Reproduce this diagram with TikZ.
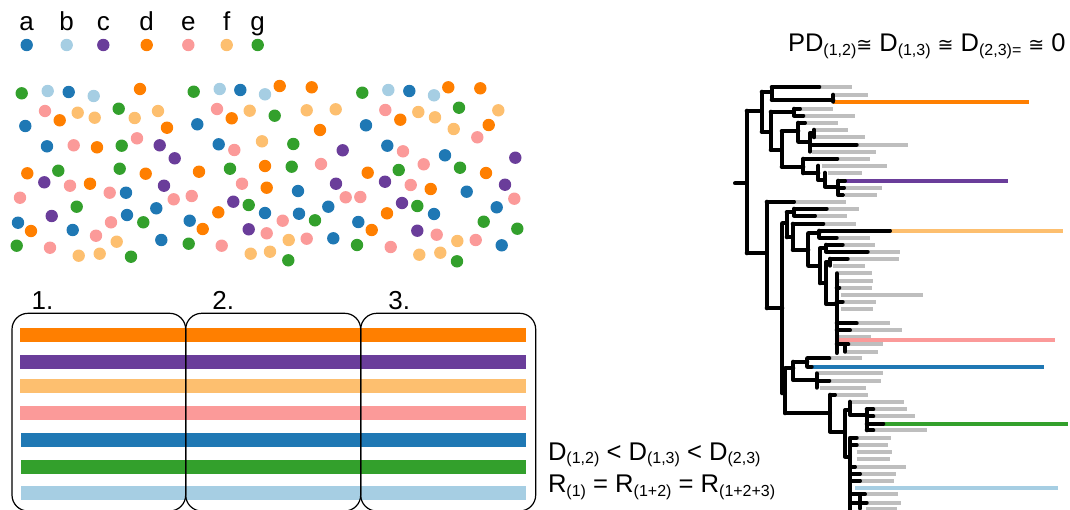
\documentclass[tikz,border=0pt]{standalone}
\usepackage{fontspec}
\setmainfont{Liberation Sans}
\newfontfamily\djv{DejaVu Sans}
\definecolor{pa}{HTML}{1F78B4}
\definecolor{pb}{HTML}{A6CEE3}
\definecolor{pc}{HTML}{6A3D9A}
\definecolor{pd}{HTML}{FF7F00}
\definecolor{pe}{HTML}{FB9A99}
\definecolor{pf}{HTML}{FDBF6F}
\definecolor{pg}{HTML}{33A02C}
\definecolor{tgrey}{HTML}{BEBEBE}
\newcommand\bigf{\fontsize{26}{30}\selectfont}
\newcommand\midf{\fontsize{25.6}{30}\selectfont}
\newcommand\subf[1]{\raisebox{-3.5pt}{\fontsize{16}{16}\selectfont #1}}
\newcommand\tsubf[1]{\raisebox{-3.5pt}{\fontsize{16}{16}\selectfont #1}}
\newcommand\congsym{{\djv\fontsize{19}{19}\selectfont ≅}}
\tikzset{
  txt/.style={inner sep=0pt, outer sep=0pt},
  tb/.style={line width=4pt, line cap=round, line join=round, draw=black},
  tg/.style={line width=4pt, draw=tgrey},
  tc/.style={line width=4pt},
  boxst/.style={draw=black, line width=1.2pt, rounded corners=16pt},
}
\begin{document}
\begin{tikzpicture}[x=1pt,y=-1pt]
\useasboundingbox (0,0) rectangle (1070,509);
\clip (0,0) rectangle (1070,509);
% legend
\foreach \x/\l/\c in {26.7/a/pa, 66.7/b/pb, 103.3/c/pc, 146.7/d/pd, 188.3/e/pe, 226.7/f/pf, 257.7/g/pg} {
  \node[txt, anchor=base, font=\bigf] (leg\l) at (\x,30) {\l};
  \fill[\c] (\x,45) circle[radius=6.2pt];
}
% dots
\foreach \x/\y/\c in {
21.7/93.3/pg, 47.7/91/pb, 68.7/92/pa, 93.7/96/pb, 140/89/pd, 193.7/91.7/pg, 219.7/89/pb, 240.3/90/pa, 265/94.3/pb,
45/111/pe, 59.7/120.3/pd, 77.7/112.7/pf, 94.7/117.7/pf, 118.7/108.7/pg, 134.7/118/pf, 158/111/pf, 167/127.7/pd,
217/109/pe, 231.7/118.3/pd, 249.7/110.7/pf, 25.3/126/pa, 197.3/124.3/pa, 47/146.3/pa, 73.7/145.3/pe, 97/147.3/pd,
121.7/145.7/pg, 137/138.3/pe, 159.7/145.3/pc, 174.7/158.3/pc, 218.7/144.3/pa, 234.3/150/pe, 262/141.3/pf,
27.3/173.3/pd, 44.3/182.3/pc, 58.3/170.7/pg, 70/185.7/pe, 90/183.7/pd, 119.7/168.7/pg, 145.7/173.7/pd,
109.7/192.7/pe, 126/192.7/pa, 164/185.7/pc, 199/171.7/pd, 230/168.7/pg, 265/166/pd, 20/197.7/pe, 76.7/206.7/pg,
173.7/199.3/pe, 191.7/196/pe, 156.3/208.3/pa, 242/183.7/pe, 266.7/187.7/pd, 233.3/201.7/pc, 248.7/205/pg,
18/222.7/pa, 31/231/pd, 51.7/216/pc, 72.7/230/pa, 111/222.3/pe, 127/215/pa, 143.3/222.3/pg, 189.7/220.7/pa,
202.7/229/pd, 218.3/212.3/pd, 265/213/pa, 248.7/229.3/pc, 266.7/233.3/pe, 16.7/245.7/pg, 50/247.7/pe,
96/235.7/pe, 116.7/241.7/pf, 161.3/240/pa, 188.7/243.7/pg, 221.7/245.7/pe, 78.7/255.7/pf, 99.7/253.7/pf,
131/256.7/pg, 250.7/253.7/pf, 270/251.7/pf,
279.7/86/pd, 311.7/87.3/pd, 362.3/92.7/pg, 388.3/90/pb, 409.3/91/pa, 434/95.3/pb, 448.3/87.3/pd, 480.3/88.3/pd,
274.7/115.7/pg, 306.7/110.3/pf, 335.7/109.3/pf, 385.3/110/pe, 400.3/119.7/pd, 418.3/112/pf, 435/117.3/pf,
459/107.7/pg, 498.3/110.3/pf, 320/130/pd, 366/125.3/pa, 453.7/129/pf, 488.7/125/pd, 477.3/137.3/pe,
293.3/144/pg, 342.7/150.3/pc, 387.3/145.7/pa, 403/151.3/pe, 445/155.3/pa, 515.3/157.7/pc, 291.7/166.7/pg,
321/164/pe, 367.7/172.7/pd, 398.7/170/pg, 423.7/164.3/pe, 460/167.7/pg, 486/173/pd, 298/191/pa, 336/183.7/pc,
385/181.7/pc, 410.7/185/pe, 430.7/189/pd, 466.7/191.7/pa, 505/184.7/pc, 345.7/197.3/pe, 360.3/197/pe,
402/203/pc, 417.3/206/pg, 328.3/206.7/pa, 514.3/198.7/pe, 496.7/207.3/pa, 299/213.7/pa, 282.7/220.7/pe,
315/220.3/pg, 358.3/222/pa, 387/213.3/pd, 434/214/pa, 371.7/230/pd, 417.3/230.7/pc, 436.7/234.7/pe,
483.7/221.7/pg, 517.3/228.7/pg, 288.7/240/pf, 306.7/238.7/pe, 333.3/238.3/pa, 357/245/pg, 390.7/247/pe,
457.3/241/pf, 475.7/240/pe, 501.7/245.3/pa, 419.3/254.7/pf, 440.3/252.7/pf, 457/261.3/pg, 288.3/260.3/pg} {
  \fill[\c] (\x,\y) circle[radius=6.2pt];
}
% bars
\foreach \ya/\yb/\c/\xa in {328.3/341.7/pd/20, 355/369/pc/20, 379/392.7/pf/20, 406/420/pe/20, 433/446.7/pa/21, 460/474/pg/21, 486/500/pb/21} {
  \fill[\c] (\xa,\ya) rectangle (526,\yb);
}
% boxes
\draw[boxst] (12,313.3) rectangle (185.7,511);
\draw[boxst] (185.7,313.3) rectangle (360.7,511);
\draw[boxst] (360.7,313.3) rectangle (535.7,511);
\node[txt, anchor=base west, font=\bigf] (n1) at (31.7,309.3) {1.};
\node[txt, anchor=base west, font=\bigf] (n2) at (212.3,309.3) {2.};
\node[txt, anchor=base west, font=\bigf] (n3) at (388.3,309.3) {3.};
% formulas
\node[txt, anchor=base west, font=\midf] (f1) at (548,460) {D\subf{(1,2)} < D\subf{(1,3)} < D\subf{(2,3)}};
\node[txt, anchor=base west, font=\midf] (f2) at (548,492.7) {R\subf{(1)} = R\subf{(1+2)} = R\subf{(1+2+3)}};
\node[txt, anchor=base west, font=\fontsize{25.5}{28}\selectfont] (title) at (788,51.7)
  {PD\tsubf{(1,2)}\congsym{} D\tsubf{(1,3)} \congsym{} D\tsubf{(2,3)=} \congsym{} 0};
% tree: grey tips
\foreach \y/\xa/\xb in {
87/819.3/851.7, 94.7/835/867.7, 108.7/800/832.7, 115.7/803.3/855, 122.7/805/837.7, 129.7/815/847.7,
137.3/815/865, 144.7/856.7/907.7, 151.7/812/875.7, 158.7/837.3/869.7, 165.7/821.7/886.7, 172.7/828.3/861.7,
187.7/845/881.7, 195/845/876.7, 201.7/794/845.7, 208.7/826.7/859, 215.7/815/846.7, 223.7/823.3/856,
237.7/836.7/870, 244.7/842.7/875, 251.7/867.7/900, 258.7/847.7/899, 265.7/833.3/865, 273.3/836.7/871.7,
280.7/839.3/872.7, 287.7/839.3/871.7, 294.7/840.7/922.7, 301.7/842.7/875.7, 308.7/840.7/872.7,
323.3/856.7/890, 330.3/850/901.7, 336.5/838.3/870.7, 344.3/848.3/882.7, 351.7/845/878, 358.3/829.3/861.7,
373.3/818.3/882.7, 380.7/829.3/881, 387.7/820/865.7, 394.7/835/867.7, 401.7/851.7/903.7, 409.3/873.3/906.7,
416.3/873.3/914.7, 430.3/873.3/926.7, 437.7/856.7/890.7, 445/856.7/887.7, 452.3/856.7/891.7, 459.3/856.7/890,
466.7/855/905.7, 473.7/860/895.7, 480.7/860/893.7, 494.3/865/897.7, 502.7/866.7/900.7, 508.5/866/897} {
  \draw[tg] (\xa,\y) -- (\xb,\y);
}
% tree: coloured tips
\foreach \y/\xa/\xb/\c in {101.7/833.3/1029/pd, 180.7/845/1007.7/pc, 230.7/890/1062.7/pf, 339.5/838.3/1055/pe,
366.7/811.7/1043.7/pa, 423.7/883.3/1068.3/pg, 487.7/855/1057.7/pb} {
  \draw[tc, draw=\c] (\xa,\y) -- (\xb,\y);
}
% tree: black branches
\draw[tb]
(735,183.3) -- (746.7,183.3)
(746.7,110.7) -- (746.7,253.3)
(746.7,110.7) -- (761.7,110.7)
(761.7,91.7) -- (761.7,131.7)
(761.7,91.7) -- (771.7,91.7)
(771.7,87) -- (771.7,100)
(771.7,87) -- (819.3,87)
(771.7,100) -- (833.3,100)
(833.3,94.7) -- (833.3,101.7)
(761.7,131.7) -- (770.7,131.7)
(770.7,111.7) -- (770.7,150)
(770.7,111.7) -- (794,111.7)
(794,108.7) -- (794,115.7)
(794,108.7) -- (800,108.7)
(794,115.7) -- (803.3,115.7)
(770.7,150) -- (781.7,150)
(781.7,131) -- (781.7,166.7)
(781.7,131) -- (798.3,131)
(798.3,122.7) -- (798.3,141.7)
(798.3,122.7) -- (805,122.7)
(798.3,141.7) -- (810,141.7)
(810,133) -- (810,151.7)
(810,133) -- (814,133)
(814,129.7) -- (814,137.3)
(810,144.7) -- (856.7,144.7)
(781.7,166.7) -- (803.3,166.7)
(803.3,158.7) -- (803.3,173.3)
(803.3,158.7) -- (837.3,158.7)
(803.3,173.3) -- (818.3,173.3)
(818.3,165.7) -- (818.3,180)
(818.3,180) -- (825,180)
(825,172.7) -- (825,186.7)
(825,186.7) -- (838.3,186.7)
(838.3,180.7) -- (838.3,195)
(838.3,180.7) -- (845,180.7)
(838.3,187.7) -- (844,187.7)
(838.3,195) -- (843,195)
(746.7,253.3) -- (766.7,253.3)
(766.7,201.7) -- (766.7,308.3)
(766.7,201.7) -- (794,201.7)
(766.7,308.3) -- (782.3,308.3)
(782.3,223.3) -- (782.3,393.3)
(782.3,223.3) -- (786.7,223.3)
(786.7,212.3) -- (786.7,237.3)
(786.7,212.3) -- (794,212.3)
(794,208.7) -- (794,215.7)
(794,208.7) -- (826.7,208.7)
(794,215.7) -- (815,215.7)
(786.7,237.3) -- (792.7,237.3)
(792.7,223.7) -- (792.7,250)
(792.7,223.7) -- (823.3,223.7)
(792.7,250) -- (808.3,250)
(808.3,233.3) -- (808.3,265.7)
(808.3,233.3) -- (819.3,233.3)
(819.3,230.7) -- (819.3,237.7)
(819.3,230.7) -- (890,230.7)
(819.3,237.7) -- (836.7,237.7)
(808.3,265.7) -- (820,265.7)
(820,248.3) -- (820,283.3)
(820,248.3) -- (826,248.3)
(826,244.7) -- (826,251.7)
(826,244.7) -- (842.7,244.7)
(826,251.7) -- (867.7,251.7)
(820,283.3) -- (826,283.3)
(826,262) -- (826,304)
(826,262) -- (830,262)
(830,258.7) -- (830,265.7)
(830,258.7) -- (847.7,258.7)
(826,304) -- (836.7,304)
(836.7,273.3) -- (836.7,353)
(836.7,323.3) -- (856.7,323.3)
(836.7,330.3) -- (850,330.3)
(836.7,344.3) -- (848.3,344.3)
(845,344.3) -- (845,351.7)
(836.7,287.7) -- (839.3,287.7)
(836.7,301.7) -- (842.7,301.7)
(782.3,393.3) -- (785,393.3)
(785,368.3) -- (785,413.3)
(785,368.3) -- (793.3,368.3)
(793.3,361.7) -- (793.3,380)
(793.3,361.7) -- (807.3,361.7)
(807.3,358.3) -- (807.3,366.7)
(807.3,358.3) -- (829.3,358.3)
(807.3,366.7) -- (811.7,366.7)
(793.3,380) -- (816.7,380)
(816.7,373.3) -- (816.7,387.7)
(816.7,380.7) -- (829.3,380.7)
(785,413.3) -- (830,413.3)
(830,394.7) -- (830,431.7)
(830,394.7) -- (835,394.7)
(830,431.7) -- (845,431.7)
(845,410) -- (845,456.7)
(845,410) -- (850,410)
(850,401.7) -- (850,415)
(850,415) -- (866.7,415)
(866.7,409.3) -- (866.7,430.3)
(866.7,409.3) -- (873.3,409.3)
(866.7,416.3) -- (873.3,416.3)
(866.7,423.7) -- (883.3,423.7)
(866.7,430.3) -- (873.3,430.3)
(845,456.7) -- (850,456.7)
(850,438) -- (850,512)
(850,437.7) -- (856.7,437.7)
(850,445) -- (856.7,445)
(850,466.7) -- (855,466.7)
(850,473.7) -- (860,473.7)
(850,480.7) -- (860,480.7)
(850,494.3) -- (865,494.3)
(850,502.7) -- (866.7,502.7)
(860,494.3) -- (860,508.5);
\end{tikzpicture}
\end{document}
